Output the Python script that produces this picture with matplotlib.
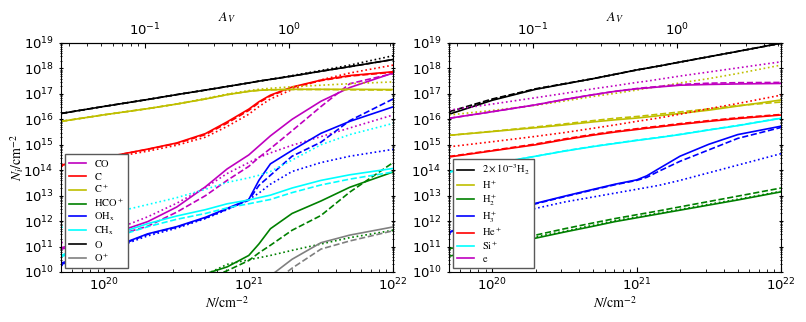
import numpy as np
import matplotlib
matplotlib.use('Agg')
from matplotlib import pyplot as plt
from matplotlib.ticker import LogLocator, NullFormatter, FixedLocator

plt.rcParams['mathtext.fontset'] = 'stix'

# column density grid, log10(N / cm^-2)
log_n = [19.7, 20.0, 20.3, 20.5, 20.7, 20.85, 21.0, 21.07, 21.15, 21.3, 21.5, 21.7, 22.0]
av_per_n = 1.0 / 1.9e21

# left panel: log10(N_i) for (solid, dashed, dotted) models
co_solid = [10.95, 11.4, 11.98, 12.55, 13.35, 14.05, 14.6, 14.95, 15.35, 16.0, 16.71, 17.25, 17.82]
co_dashed = [10.9, 11.3, 11.8, 12.35, 13.0, 13.6, 14.15, 14.5, 14.85, 15.55, 16.5, 17.4, 17.8]
co_dotted = [11.15, 11.5, 12.17, 12.7, 13.32, 13.87, 14.3, 14.5, 14.68, 14.98, 15.32, 15.66, 16.17]

c_solid = [14.2, 14.5, 14.83, 15.07, 15.44, 15.9, 16.4, 16.69, 16.95, 17.27, 17.54, 17.72, 17.87]
c_dashed = [14.2, 14.5, 14.82, 15.05, 15.4, 15.85, 16.35, 16.65, 16.92, 17.25, 17.52, 17.7, 17.85]
c_dotted = [14.15, 14.45, 14.75, 14.98, 15.3, 15.72, 16.2, 16.5, 16.8, 17.17, 17.55, 17.82, 18.13]

cp_solid = [15.92, 16.18, 16.42, 16.6, 16.8, 16.97, 17.1, 17.14, 17.16, 17.18, 17.18, 17.18, 17.17]
cp_dashed = [15.92, 16.18, 16.42, 16.6, 16.8, 16.97, 17.1, 17.14, 17.16, 17.17, 17.17, 17.16, 17.15]
cp_dotted = [15.92, 16.18, 16.42, 16.6, 16.82, 16.99, 17.13, 17.18, 17.22, 17.28, 17.34, 17.4, 17.47]

hcop_solid = [8.5, 8.8, 9.1, 9.4, 9.93, 10.2, 10.65, 11.1, 11.7, 12.3, 12.79, 13.33, 13.93]
hcop_dashed = [8.4, 8.7, 9.0, 9.3, 9.7, 10.05, 10.45, 10.75, 11.05, 11.64, 12.22, 13.14, 14.3]
hcop_dotted = [8.6, 8.9, 9.2, 9.5, 9.9, 10.3, 10.48, 10.56, 10.65, 10.85, 11.1, 11.35, 11.64]

ohx_solid = [10.35, 10.85, 11.5, 11.78, 12.15, 12.5, 12.85, 13.6, 14.25, 14.78, 15.45, 15.92, 16.49]
ohx_dashed = [10.3, 10.82, 11.48, 11.76, 12.12, 12.47, 12.82, 13.4, 13.8, 14.55, 15.1, 15.95, 16.8]
ohx_dotted = [10.25, 10.8, 11.42, 11.72, 12.1, 12.45, 12.85, 13.1, 13.45, 13.95, 14.3, 14.55, 14.82]

chx_solid = [10.65, 11.35, 11.9, 12.2, 12.45, 12.68, 12.83, 12.92, 13.02, 13.3, 13.6, 13.82, 14.07]
chx_dashed = [10.6, 11.25, 11.78, 12.07, 12.3, 12.52, 12.68, 12.76, 12.85, 13.12, 13.42, 13.65, 13.93]
chx_dotted = [11.75, 12.25, 12.65, 12.92, 13.25, 13.52, 13.7, 13.8, 13.95, 14.4, 15.0, 15.4, 15.84]

o_solid = [16.23, 16.51, 16.78, 16.97, 17.15, 17.29, 17.43, 17.5, 17.57, 17.7, 17.89, 18.07, 18.35]
o_dashed = [16.23, 16.51, 16.78, 16.97, 17.15, 17.29, 17.43, 17.5, 17.57, 17.7, 17.89, 18.07, 18.35]
o_dotted = [16.23, 16.51, 16.78, 16.97, 17.15, 17.29, 17.43, 17.5, 17.57, 17.72, 17.92, 18.13, 18.5]

op_solid = [7.0, 7.5, 8.0, 8.4, 8.8, 9.2, 9.5, 9.7, 9.85, 10.5, 11.15, 11.45, 11.77]
op_dashed = [6.5, 7.0, 7.5, 8.0, 8.4, 8.8, 9.1, 9.3, 9.5, 10.15, 10.9, 11.22, 11.62]

# right panel
h2_solid = [16.2, 16.75, 17.18, 17.39, 17.6, 17.77, 17.94, 18.01, 18.09, 18.25, 18.46, 18.67, 18.99]
h2_dashed = [16.3, 16.8, 17.2, 17.4, 17.6, 17.77, 17.94, 18.01, 18.09, 18.25, 18.46, 18.67, 18.99]
h2_dotted = [16.28, 16.78, 17.19, 17.4, 17.6, 17.77, 17.94, 18.01, 18.09, 18.25, 18.46, 18.67, 18.99]

hp_solid = [15.37, 15.52, 15.67, 15.78, 15.9, 15.98, 16.05, 16.09, 16.14, 16.23, 16.36, 16.52, 16.76]
hp_dashed = [15.37, 15.53, 15.7, 15.82, 15.95, 16.04, 16.11, 16.15, 16.2, 16.29, 16.41, 16.54, 16.68]
hp_dotted = [16.17, 16.35, 16.55, 16.72, 16.9, 17.02, 17.15, 17.22, 17.28, 17.43, 17.6, 17.8, 18.13]

h2p_solid = [10.62, 10.98, 11.33, 11.57, 11.8, 11.98, 12.13, 12.2, 12.28, 12.43, 12.63, 12.83, 13.15]
h2p_dashed = [10.92, 11.15, 11.45, 11.7, 11.93, 12.1, 12.25, 12.32, 12.4, 12.56, 12.77, 12.98, 13.3]
h2p_dotted = [10.9, 11.1, 11.38, 11.6, 11.84, 12.02, 12.16, 12.23, 12.31, 12.46, 12.66, 12.86, 13.17]

h3p_solid = [11.57, 12.2, 12.7, 12.98, 13.25, 13.45, 13.62, 13.78, 14.05, 14.55, 15.02, 15.4, 15.73]
h3p_dashed = [11.55, 12.18, 12.68, 12.96, 13.23, 13.43, 13.6, 13.72, 13.95, 14.35, 14.8, 15.25, 15.68]
h3p_dotted = [11.5, 12.05, 12.5, 12.75, 12.95, 13.1, 13.25, 13.32, 13.4, 13.6, 13.9, 14.2, 14.65]

hep_solid = [14.52, 14.76, 15.0, 15.2, 15.38, 15.5, 15.6, 15.65, 15.7, 15.8, 15.92, 16.03, 16.17]
hep_dashed = [14.54, 14.78, 15.03, 15.23, 15.41, 15.53, 15.63, 15.68, 15.73, 15.83, 15.95, 16.06, 16.19]
hep_dotted = [14.92, 15.12, 15.33, 15.48, 15.65, 15.78, 15.92, 15.98, 16.05, 16.2, 16.42, 16.62, 16.95]

sip_solid = [13.93, 14.25, 14.55, 14.75, 14.93, 15.05, 15.17, 15.22, 15.28, 15.4, 15.58, 15.75, 16.04]
sip_dashed = [13.93, 14.25, 14.55, 14.76, 14.94, 15.06, 15.18, 15.23, 15.29, 15.41, 15.59, 15.76, 16.05]

e_solid = [16.04, 16.3, 16.57, 16.78, 16.97, 17.1, 17.2, 17.23, 17.27, 17.34, 17.37, 17.39, 17.41]
e_dashed = [16.04, 16.3, 16.57, 16.78, 16.97, 17.1, 17.21, 17.25, 17.29, 17.37, 17.42, 17.44, 17.45]
e_dotted = [16.36, 16.6, 16.85, 17.02, 17.2, 17.32, 17.45, 17.5, 17.57, 17.7, 17.86, 18.02, 18.26]

left_species = [
    (r'$\mathrm{CO}$', 'm', co_solid, co_dashed, co_dotted),
    (r'$\mathrm{C}$', 'r', c_solid, c_dashed, c_dotted),
    (r'$\mathrm{C}^+$', 'y', cp_solid, cp_dashed, cp_dotted),
    (r'$\mathrm{HCO}^+$', 'g', hcop_solid, hcop_dashed, hcop_dotted),
    (r'$\mathrm{OH}_\mathrm{x}$', 'b', ohx_solid, ohx_dashed, ohx_dotted),
    (r'$\mathrm{CH}_\mathrm{x}$', 'cyan', chx_solid, chx_dashed, chx_dotted),
    (r'$\mathrm{O}$', 'k', o_solid, o_dashed, o_dotted),
    (r'$\mathrm{O}^+$', '0.5', op_solid, op_dashed, None),
]
right_species = [
    (r'$2\times10^{-3}\mathrm{H}_2$', 'k', h2_solid, h2_dashed, h2_dotted),
    (r'$\mathrm{H}^+$', 'y', hp_solid, hp_dashed, hp_dotted),
    (r'$\mathrm{H}_2^+$', 'g', h2p_solid, h2p_dashed, h2p_dotted),
    (r'$\mathrm{H}_3^+$', 'b', h3p_solid, h3p_dashed, h3p_dotted),
    (r'$\mathrm{He}^+$', 'r', hep_solid, hep_dashed, hep_dotted),
    (r'$\mathrm{Si}^+$', 'cyan', sip_solid, sip_dashed, None),
    (r'$\mathrm{e}$', 'm', e_solid, e_dashed, e_dotted),
]


def draw_panel(ax, species, ylabel=True):
    n = 10 ** np.array(log_n)
    for label, color, solid, dashed, dotted in species:
        ax.plot(n, 10 ** np.array(solid), color=color, ls='-', lw=1.2, label=label)
        ax.plot(n, 10 ** np.array(dashed), color=color, ls='--', lw=1.2)
        if dotted is not None:
            ax.plot(n, 10 ** np.array(dotted), color=color, ls=':', lw=1.2)
    ax.set_xscale('log')
    ax.set_yscale('log')
    ax.set_xlim(5e19, 1e22)
    ax.set_ylim(1e10, 1e19)
    ax.yaxis.set_major_locator(LogLocator(base=10, numticks=20))
    ax.yaxis.set_minor_locator(LogLocator(base=10, subs=np.arange(2, 10), numticks=20))
    ax.yaxis.set_minor_formatter(NullFormatter())
    ax.tick_params(which='both', labelsize=9.5, right=True)
    ax.tick_params(axis='x', which='both', direction='in')
    ax.tick_params(axis='y', which='both', direction='inout')
    ax.set_xlabel(r'$N/\mathrm{cm}^{-2}$', fontsize=10, labelpad=1)
    if ylabel:
        ax.set_ylabel(r'$N_i/\mathrm{cm}^{-2}$', fontsize=10)
        ax.yaxis.set_label_coords(-0.105, 0.5)

    sec = ax.secondary_xaxis('top', functions=(lambda x: x * av_per_n, lambda a: a / av_per_n))
    sec.xaxis.set_major_locator(FixedLocator([0.1, 1.0]))
    sec.tick_params(which='both', labelsize=9.5, direction='in')
    sec.set_xlabel(r'$A_V$', fontsize=10, labelpad=0)

    leg = ax.legend(loc='lower left', fontsize=7.5, fancybox=False, framealpha=1,
                    edgecolor='0.35', labelspacing=0.15, handlelength=1.6,
                    handletextpad=0.8, borderaxespad=0.4)
    leg.get_frame().set_linewidth(1.0)


fig = plt.figure(figsize=(8.06, 3.22), dpi=100)
ax_left = fig.add_axes([0.0757, 0.1553, 0.412, 0.7112])
ax_right = fig.add_axes([0.557, 0.1553, 0.412, 0.7112])

draw_panel(ax_left, left_species)
draw_panel(ax_right, right_species, ylabel=False)

plt.savefig('out.png', dpi=100)
